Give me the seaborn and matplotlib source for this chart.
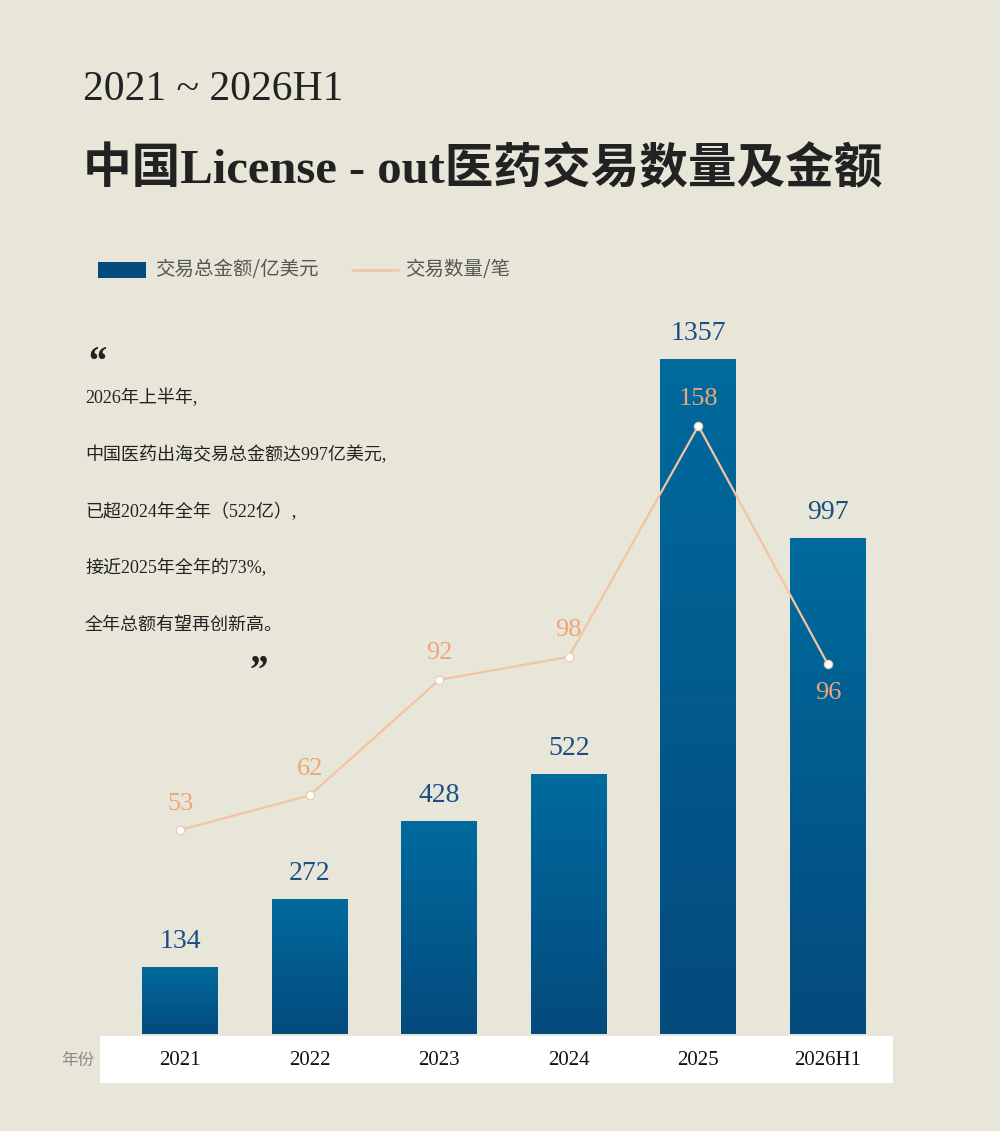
import numpy as np
import pandas as pd
import seaborn as sns
import matplotlib.pyplot as plt
from matplotlib.patches import Rectangle

years = ['2021', '2022', '2023', '2024', '2025', '2026H1']
amount = [134, 272, 428, 522, 1357, 997]   # 交易总金额/亿美元
deals = [53, 62, 92, 98, 158, 96]          # 交易数量/笔

BG = '#E7E6D9'
BAR_TOP = '#006B9E'
BAR_BOT = '#044A7D'
LINE = '#F3C4A0'
LINE_TXT = '#EFA57A'
BAR_TXT = '#1C4F80'

sns.set_theme(style='white')
NUM = ['Liberation Serif', 'DejaVu Serif']
CJK = ['Noto Sans CJK SC', 'DejaVu Sans']
MIX = ['Liberation Serif', 'Noto Sans CJK SC', 'DejaVu Sans']
plt.rcParams['font.family'] = MIX

W, H = 1000, 1131
fig = plt.figure(figsize=(W / 100, H / 100), dpi=100, facecolor=BG)

# white band behind year labels (drawn first, below the axes)
fig.patches.append(Rectangle((100 / W, (H - 1083) / H), 793 / W, 47 / H,
                             transform=fig.transFigure, facecolor='white',
                             edgecolor='none', zorder=-5))

# axes: x from 115 to 893 px, y from 300 to 1034 px
ax = fig.add_axes([115.2 / W, (H - 1034) / H, 777.6 / W, 734 / H])
ax.set_facecolor('none')

df = pd.DataFrame({'year': years, 'amount': amount, 'deals': deals})
sns.barplot(data=df, x='year', y='amount', color=BAR_TOP, width=0.586, ax=ax, zorder=2)

# vertical gradient inside every bar
grad = np.linspace(0, 1, 256).reshape(-1, 1)
cmap = sns.blend_palette([BAR_BOT, BAR_TOP], as_cmap=True)
for p in ax.patches:
    x0, y0 = p.get_x(), p.get_y()
    w, h = p.get_width(), p.get_height()
    im = ax.imshow(grad, extent=[x0, x0 + w, y0, y0 + h], origin='lower',
                   cmap=cmap, aspect='auto', zorder=2)
    im.set_clip_path(p)
    p.set_facecolor('none')
    p.set_edgecolor('none')
    ax.text(x0 + w / 2, y0 + h + 26, str(int(h)), ha='center', va='bottom',
            fontsize=20, color=BAR_TXT, family=NUM)
ax.set_xlim(-0.5, 5.5)
ax.set_ylim(0, 1475)

for s in ax.spines.values():
    s.set_visible(False)
ax.set_yticks([])
ax.set_xlabel('')
ax.set_ylabel('')
ax.tick_params(axis='x', length=0, pad=12, labelsize=15, labelcolor='#111111')
for t in ax.get_xticklabels():
    t.set_family(NUM)

# line on twin axis
ax2 = ax.twinx()
ax2.set_facecolor('none')
sns.lineplot(x=np.arange(len(years)), y=deals, ax=ax2, color=LINE, lw=1.6,
             marker='o', markersize=6, markerfacecolor='white',
             markeredgecolor='#E8C9B0', markeredgewidth=0.8, zorder=4)
ax2.set_ylim(0, 190.7)
ax2.set_xlim(-0.5, 5.5)
ax2.set_yticks([])
ax2.set_ylabel('')
for s in ax2.spines.values():
    s.set_visible(False)
for i, v in enumerate(deals):
    if i == len(deals) - 1:
        ax2.text(i, v - 4.5, str(v), ha='center', va='top', fontsize=19,
                 color=LINE_TXT, family=NUM)
    else:
        ax2.text(i, v + 4, str(v), ha='center', va='bottom', fontsize=19,
                 color=LINE_TXT, family=NUM)

fig.text(78 / W, 1 - 1060 / H, '年份', ha='center', va='center', fontsize=12,
         color='#8A8A8A', family=CJK)

# titles
fig.text(83 / W, 1 - 90 / H, '2021 ~ 2026H1', ha='left', va='center',
         fontsize=30, color='#222222', family=NUM)
fig.text(83 / W, 1 - 170 / H, '中国License - out医药交易数量及金额', ha='left',
         va='center', fontsize=35, fontweight='bold', color='#222222', family=MIX)

# legend
fig.patches.append(Rectangle((98 / W, 1 - 278 / H), 48 / W, 16 / H,
                             transform=fig.transFigure, facecolor=BAR_BOT,
                             edgecolor='none'))
fig.text(155 / W, 1 - 270 / H, '交易总金额/亿美元', ha='left', va='center',
         fontsize=14, color='#555555', family=CJK)
fig.lines.append(plt.Line2D([352 / W, 398 / W], [1 - 270 / H, 1 - 270 / H],
                            transform=fig.transFigure, color=LINE, lw=1.8))
fig.text(405 / W, 1 - 270 / H, '交易数量/笔', ha='left', va='center',
         fontsize=14, color='#555555', family=CJK)

# quote block
fig.text(86 / W, 1 - 364 / H, '\u201c', ha='left', va='center', fontsize=28,
         fontweight='bold', fontstyle='italic', color='#222222', family=NUM)
quote = ['2026年上半年,',
         '中国医药出海交易总金额达997亿美元,',
         '已超2024年全年（522亿）,',
         '接近2025年全年的73%,',
         '全年总额有望再创新高。']
for k, line in enumerate(quote):
    fig.text(85 / W, 1 - (398 + 56.8 * k) / H, line, ha='left', va='center',
             fontsize=13, fontweight='medium', color='#222222', family=MIX)
fig.text(248 / W, 1 - 672 / H, '\u201d', ha='left', va='center', fontsize=28,
         fontweight='bold', fontstyle='italic', color='#222222', family=NUM)

fig.savefig('out.png', dpi=100, facecolor=BG)
